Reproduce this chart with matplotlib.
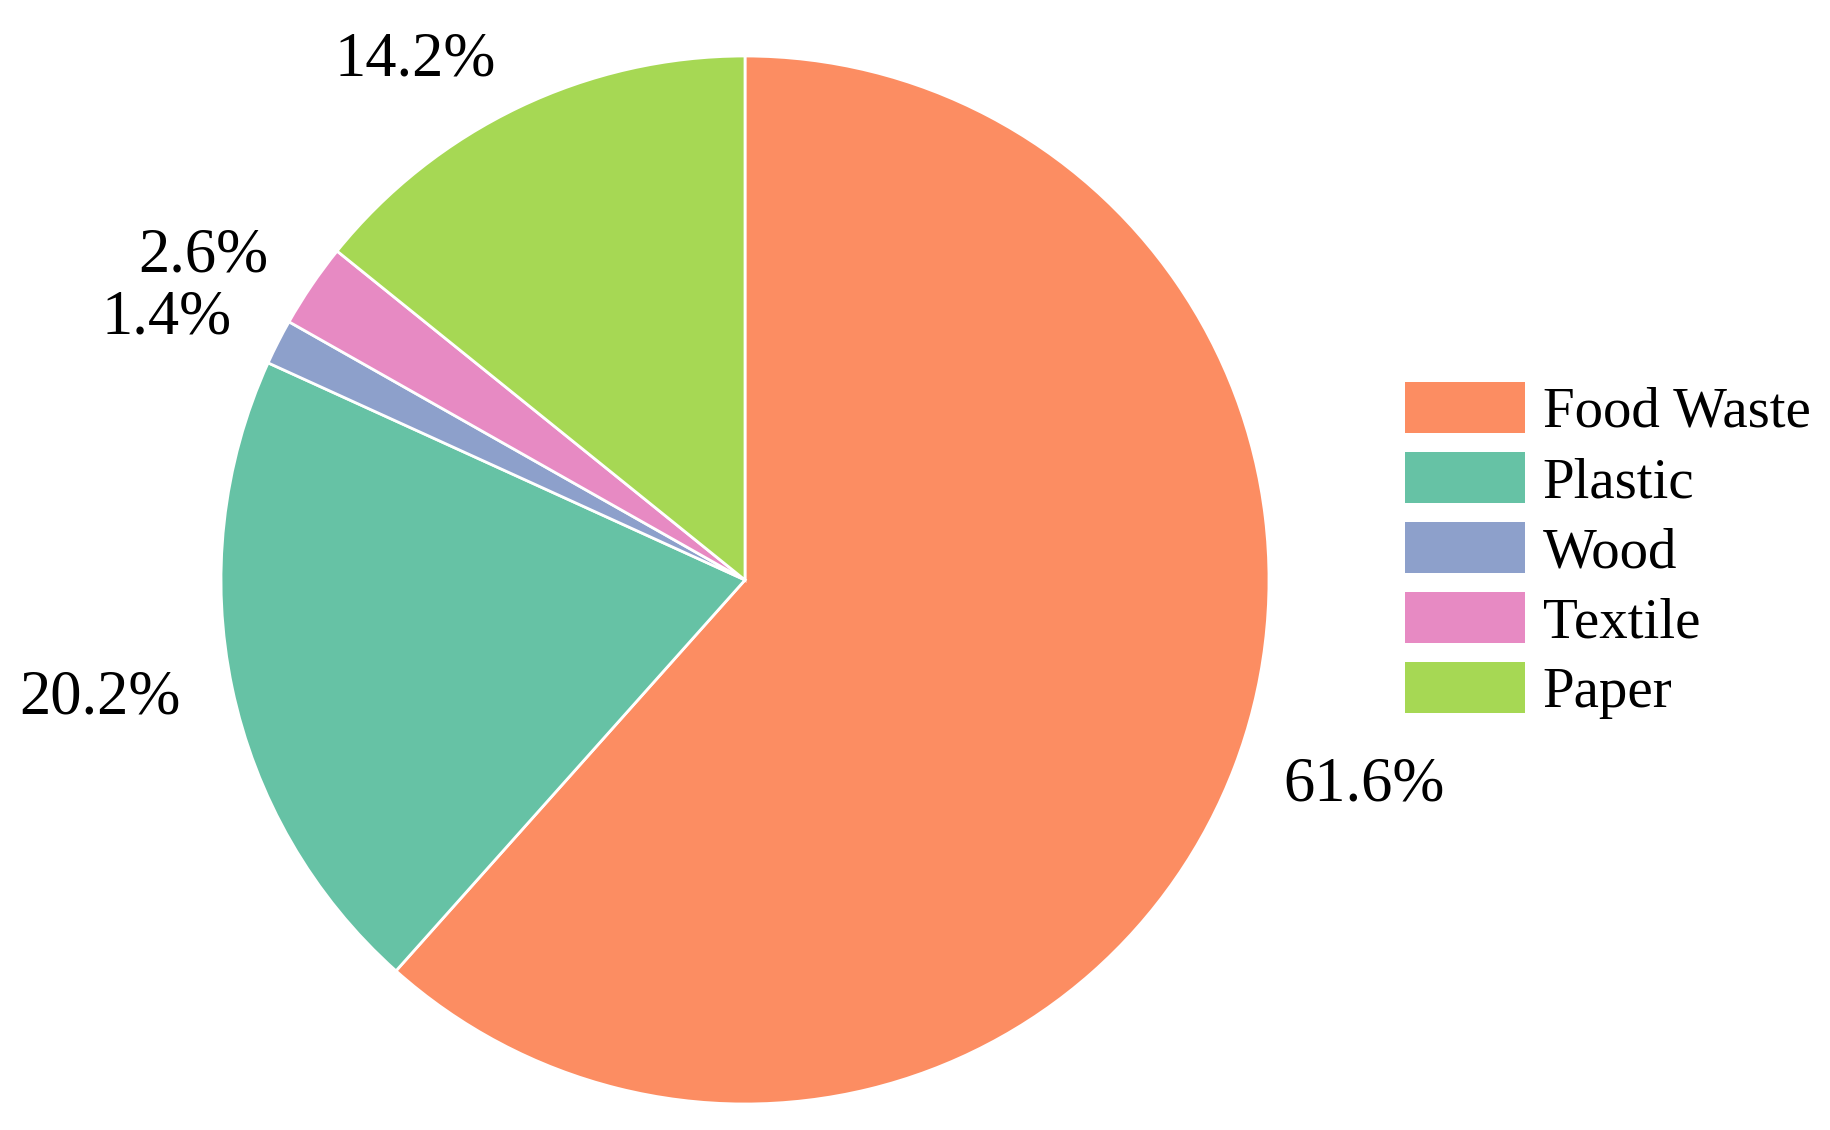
import matplotlib
matplotlib.use("Agg")
import matplotlib.pyplot as plt
from matplotlib.patches import Patch

categories = ["Food Waste", "Plastic", "Wood", "Textile", "Paper"]
values = [61.6, 20.2, 1.4, 2.6, 14.2]
colors = ["#fc8d62", "#66c2a5", "#8da0cb", "#e78ac3", "#a6d854"]
pct_labels = [f"{v:.1f}%" for v in values]

plt.rcParams['font.family'] = ['Liberation Serif', 'DejaVu Serif']

W, H = 1831, 1130
fig = plt.figure(figsize=(W / 100, H / 100), dpi=100)
cx, cy, r = 745, 580, 524
ax = fig.add_axes([(cx - r) / W, (H - cy - r) / H, 2 * r / W, 2 * r / H])
wedges, texts = ax.pie(values, labels=pct_labels, colors=colors, startangle=90,
                       counterclock=False, labeldistance=1.1,
                       wedgeprops=dict(edgecolor="white", linewidth=2),
                       textprops=dict(fontsize=45))
ax.set_xlim(-1, 1)
ax.set_ylim(-1, 1)
ax.set_aspect('equal')

handles = [Patch(facecolor=c, edgecolor='none') for c in colors]
fig.legend(handles, categories, loc='upper left',
           bbox_to_anchor=(1405 / W, 1 - 382 / H), bbox_transform=fig.transFigure,
           frameon=False, fontsize=41, handlelength=2.1, handleheight=1.0,
           handletextpad=0.32, labelspacing=0.23, borderpad=0, borderaxespad=0)

fig.savefig("out.png", dpi=100)
